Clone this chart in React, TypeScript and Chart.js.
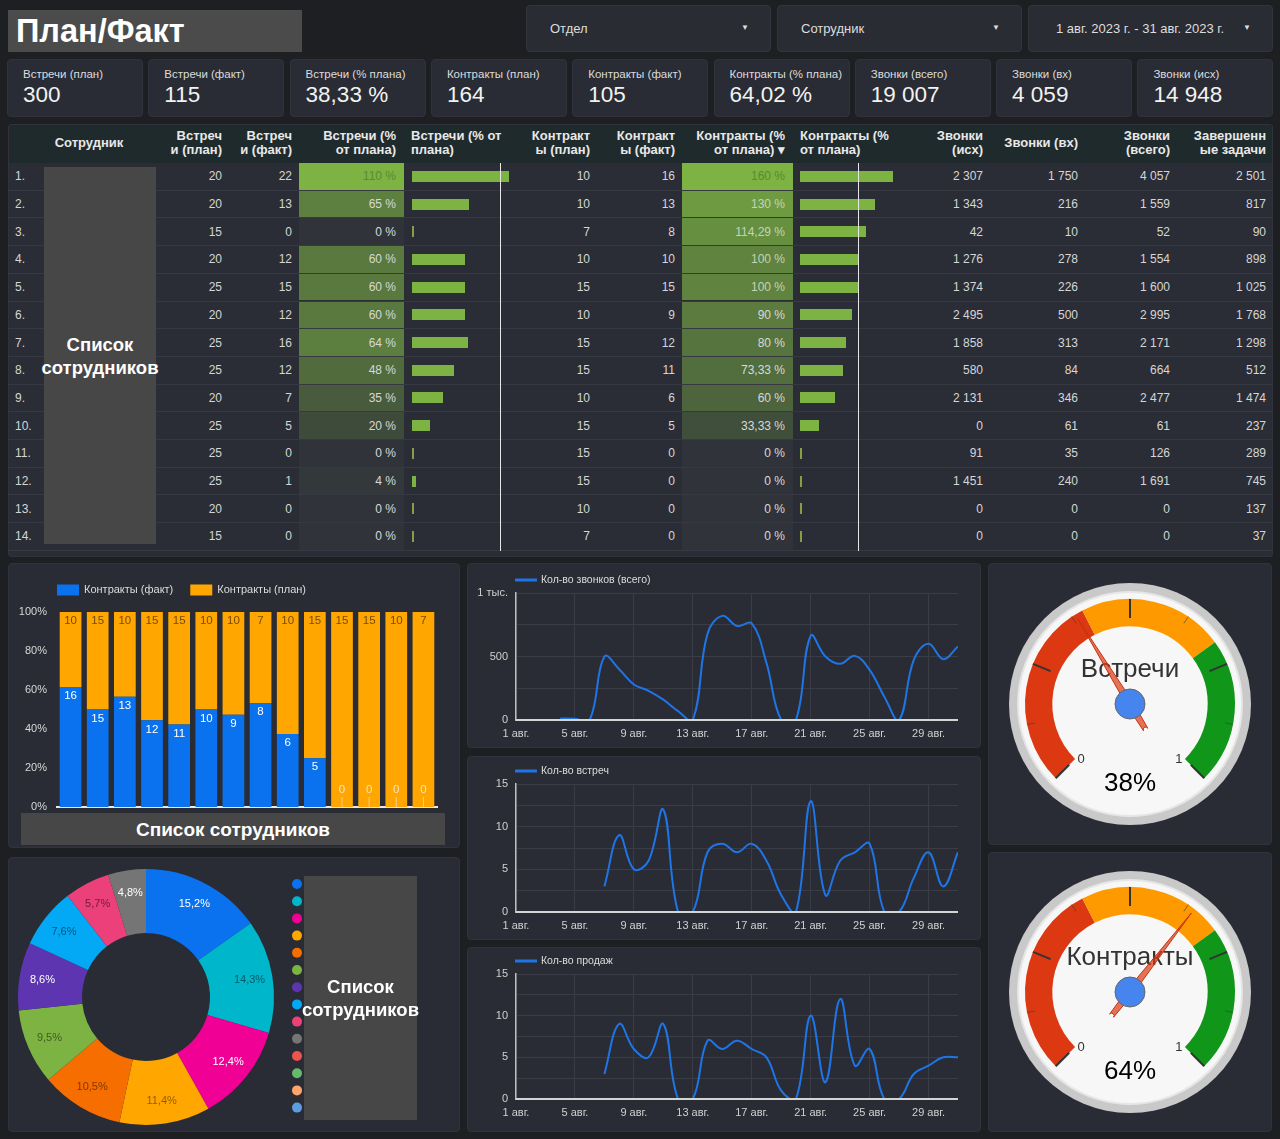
import React, { useEffect, useRef } from "react";
import { Chart, registerables } from "chart.js";

Chart.register(...registerables);

const FONT = "'Liberation Sans', Arial, Helvetica, sans-serif";
Chart.defaults.font.family = FONT;
Chart.defaults.color = "#d4d4d4";

// ---------- colours ----------
const PAGE_BG = "#1d1f23";
const CARD_BG = "#292c34";
const CARD_BORDER = "#30333b";
const GRID = "#3a3d45";
const LINE_BLUE = "#1f74e6";
const NAME_BOX = "#474747";

// ---------- header / filters ----------
const PAGE_TITLE = "План/Факт";
const FILTER_LABELS = ["Отдел", "Сотрудник", "1 авг. 2023 г. - 31 авг. 2023 г."];

// ---------- KPI scorecards ----------
const KPI_LABELS = [
  "Встречи (план)", "Встречи (факт)", "Встречи (% плана)",
  "Контракты (план)", "Контракты (факт)", "Контракты (% плана)",
  "Звонки (всего)", "Звонки (вх)", "Звонки (исх)",
];
const KPI_VALUES = ["300", "115", "38,33 %", "164", "105", "64,02 %", "19 007", "4 059", "14 948"];

// ---------- table ----------
const MEET_PLAN = [20, 20, 15, 20, 25, 20, 25, 25, 20, 25, 25, 25, 20, 15];
const MEET_FACT = [22, 13, 0, 12, 15, 12, 16, 12, 7, 5, 0, 1, 0, 0];
const MEET_PCT = [110, 65, 0, 60, 60, 60, 64, 48, 35, 20, 0, 4, 0, 0];
const CONTR_PLAN = [10, 10, 7, 10, 15, 10, 15, 15, 10, 15, 15, 15, 10, 7];
const CONTR_FACT = [16, 13, 8, 10, 15, 9, 12, 11, 6, 5, 0, 0, 0, 0];
const CONTR_PCT = [160, 130, 114.29, 100, 100, 90, 80, 73.33, 60, 33.33, 0, 0, 0, 0];
const CALLS_OUT = [2307, 1343, 42, 1276, 1374, 2495, 1858, 580, 2131, 0, 91, 1451, 0, 0];
const CALLS_IN = [1750, 216, 10, 278, 226, 500, 313, 84, 346, 61, 35, 240, 0, 0];
const CALLS_ALL = [4057, 1559, 52, 1554, 1600, 2995, 2171, 664, 2477, 61, 126, 1691, 0, 0];
const TASKS_DONE = [2501, 817, 90, 898, 1025, 1768, 1298, 512, 1474, 237, 289, 745, 137, 37];

const HEADERS: { t: string; x: number; align: "left" | "right" | "center" }[] = [
  { t: "Сотрудник", x: 89, align: "center" },
  { t: "Встреч\nи (план)", x: 222, align: "right" },
  { t: "Встреч\nи (факт)", x: 292, align: "right" },
  { t: "Встречи (%\nот плана)", x: 396, align: "right" },
  { t: "Встречи (% от\nплана)", x: 411, align: "left" },
  { t: "Контракт\nы (план)", x: 590, align: "right" },
  { t: "Контракт\nы (факт)", x: 675, align: "right" },
  { t: "Контракты (%\nот плана) ▾", x: 785, align: "right" },
  { t: "Контракты (%\nот плана)", x: 800, align: "left" },
  { t: "Звонки\n(исх)", x: 983, align: "right" },
  { t: "Звонки (вх)", x: 1078, align: "right" },
  { t: "Звонки\n(всего)", x: 1170, align: "right" },
  { t: "Завершенн\nые задачи", x: 1266, align: "right" },
];
const NAME_PLACEHOLDER = "Список\nсотрудников";

// ---------- stacked 100% bar ----------
const BAR_EMPLOYEES = ["С1", "С2", "С3", "С4", "С5", "С6", "С7", "С8", "С9", "С10", "С11", "С12", "С13", "С14"];
const BAR_FACT = [16, 15, 13, 12, 11, 10, 9, 8, 6, 5, 0, 0, 0, 0];
const BAR_PLAN = [10, 15, 10, 15, 15, 10, 10, 7, 10, 15, 15, 15, 10, 7];
const BAR_SERIES = ["Контракты (факт)", "Контракты (план)"];
const BAR_COLORS = ["#0a72ef", "#ffa600"];
const BAR_Y_TICKS = ["0%", "20%", "40%", "60%", "80%", "100%"];

// ---------- donut ----------
const DONUT_VALUES = [16, 15, 13, 12, 11, 10, 9, 8, 6, 5, 0, 0, 0, 0];
const DONUT_COLORS = [
  "#0a72ef", "#00b6cb", "#f10096", "#ffa600", "#f66d00", "#7cb342", "#5e35b1",
  "#03a9f4", "#ec407a", "#757575", "#ef5350", "#66bb6a", "#ffa36b", "#5c9ce0",
];
const DONUT_TEXT = [
  "#ffffff", "rgba(0,0,0,0.5)", "#ffffff", "rgba(0,0,0,0.45)", "rgba(0,0,0,0.5)",
  "rgba(0,0,0,0.5)", "#ffffff", "rgba(0,0,0,0.5)", "rgba(0,0,0,0.55)", "#ffffff",
  "#fff", "#fff", "#fff", "#fff",
];

// ---------- daily lines ----------
const DAY_LABELS = [
  "1 авг.", "2 авг.", "3 авг.", "4 авг.", "5 авг.", "6 авг.", "7 авг.", "8 авг.", "9 авг.", "10 авг.",
  "11 авг.", "12 авг.", "13 авг.", "14 авг.", "15 авг.", "16 авг.", "17 авг.", "18 авг.", "19 авг.", "20 авг.",
  "21 авг.", "22 авг.", "23 авг.", "24 авг.", "25 авг.", "26 авг.", "27 авг.", "28 авг.", "29 авг.", "30 авг.", "31 авг.",
];
const CALLS_DAILY = [null, null, null, 12, 10, 0, 500, 400, 280, 230, 160, 70, 0, 680, 820, 740, 760, 450, 0, 0, 663, 500, 442, 505, 395, 184, 0, 474, 600, 479, 579];
const MEETINGS_DAILY = [null, null, null, null, null, null, 3, 9, 5, 6, 12, 0, 0, 7, 8, 7, 8, 6, 2, 0, 13, 2, 6, 7, 8, 0, 0, 4, 7, 3, 7];
const SALES_DAILY = [null, null, null, null, null, null, 3, 9, 6, 5, 9, 0, 0, 7, 6, 7, 6, 5, 1, 0, 10, 2, 12, 4, 6, 0, 0, 3, 4, 5, 5];
const LINE_LABELS = ["Кол-во звонков (всего)", "Кол-во встреч", "Кол-во продаж"];

// ---------- gauges ----------
const GAUGE_BAND_LABELS = ["low", "mid", "high", "gap"];
const GAUGE_BANDS = [0.4, 0.3, 0.3];
const GAUGE_GAP = 0.3333;
const GAUGE_COLORS = ["#dc3912", "#ff9900", "#109618"];
const GAUGE_TITLES = ["Встречи", "Контракты"];
const GAUGE_VALUES = [0.3833, 0.6402];

// ---------- helpers ----------
const fmtInt = (n: number) => String(n).replace(/\B(?=(\d{3})+(?!\d))/g, " ");
const fmtPct = (p: number) => String(Math.round(p * 100) / 100).replace(".", ",") + " %";

function heat(r: number) {
  const a = [48, 52, 58];
  const b = [124, 179, 66];
  const c = a.map((v, i) => Math.round(v + (b[i] - v) * r));
  return `rgb(${c[0]},${c[1]},${c[2]})`;
}

function ChartCanvas({ left, top, width, height, make }: any) {
  const ref = useRef<HTMLCanvasElement | null>(null);
  useEffect(() => {
    if (!ref.current) return;
    const chart = new Chart(ref.current, make());
    return () => chart.destroy();
  }, []);
  return (
    <canvas
      ref={ref}
      width={width}
      height={height}
      style={{ position: "absolute", left, top, width, height }}
    />
  );
}

const box = (left: number, top: number, width: number, height: number, extra: any = {}) => ({
  position: "absolute" as const,
  left,
  top,
  width,
  height,
  boxSizing: "border-box" as const,
  ...extra,
});

function Txt({ x, cy, align = "right", size = 12, color = "#d6d6d6", children, style = {} }: any) {
  const pos =
    align === "right"
      ? { right: 1280 - x }
      : align === "center"
      ? { left: x - 100, width: 200, textAlign: "center" as const }
      : { left: x };
  return (
    <div
      style={{
        position: "absolute",
        top: cy - 8,
        height: 16,
        lineHeight: "16px",
        whiteSpace: "nowrap",
        fontSize: size,
        color,
        ...pos,
        ...style,
      }}
    >
      {children}
    </div>
  );
}

// ---------- chart configs ----------
const lineDecor = {
  id: "lineDecor",
  afterDatasetsDraw(chart: any) {
    const { ctx, chartArea: a } = chart;
    const ds = chart.data.datasets[0];
    ctx.save();
    ctx.strokeStyle = "#d4d4d4";
    ctx.lineWidth = 2;
    ctx.beginPath();
    ctx.moveTo(a.left, a.bottom);
    ctx.lineTo(a.right, a.bottom);
    ctx.stroke();
    const y = a.top - 13;
    ctx.strokeStyle = ds.borderColor;
    ctx.lineWidth = 3;
    ctx.beginPath();
    ctx.moveTo(a.left - 1, y);
    ctx.lineTo(a.left + 21, y);
    ctx.stroke();
    ctx.fillStyle = "#dcdcdc";
    ctx.font = `10.5px ${FONT}`;
    ctx.textBaseline = "middle";
    ctx.fillText(ds.label, a.left + 25, y);
    ctx.restore();
  },
};

function lineConfig(label: string, data: (number | null)[], max: number, step: number, fmt: (v: number) => string) {
  return {
    type: "line",
    data: {
      labels: DAY_LABELS,
      datasets: [
        {
          label,
          data,
          borderColor: LINE_BLUE,
          backgroundColor: LINE_BLUE,
          borderWidth: 2,
          pointRadius: 0,
          tension: 0.4,
          capBezierPoints: false,
          clip: 0,
          spanGaps: false,
        },
      ],
    },
    options: {
      responsive: false,
      animation: false,
      events: [],
      layout: { padding: { top: 27, right: 8, left: 0, bottom: 0 } },
      elements: { line: { capBezierPoints: false } },
      plugins: { legend: { display: false }, tooltip: { enabled: false } },
      scales: {
        x: {
          grid: { color: (c: any) => (c.index % 4 === 0 ? GRID : "rgba(0,0,0,0)"), drawTicks: false },
          border: { display: false },
          ticks: {
            autoSkip: false,
            maxRotation: 0,
            padding: 7,
            font: { size: 11 },
            color: "#d0d0d0",
            callback: (_v: any, i: number) => (i % 4 === 0 ? DAY_LABELS[i] : ""),
          },
          afterFit: (s: any) => {
            s.height = 22;
          },
        },
        y: {
          min: 0,
          max,
          grid: { color: GRID, drawTicks: false },
          border: { color: "#bdbdbd", width: 1.5 },
          ticks: { stepSize: step, padding: 8, font: { size: 11 }, color: "#d0d0d0", callback: (v: any) => fmt(Number(v)) },
          afterFit: (s: any) => {
            s.width = 46;
          },
        },
      },
    },
    plugins: [lineDecor],
  };
}

const barDecor = {
  id: "barDecor",
  afterDatasetsDraw(chart: any) {
    const { ctx, chartArea: a } = chart;
    ctx.save();
    ctx.font = `11.5px ${FONT}`;
    ctx.textAlign = "center";
    ctx.textBaseline = "middle";
    chart.getDatasetMeta(1).data.forEach((el: any, i: number) => {
      ctx.fillStyle = "rgba(70,45,0,0.75)";
      ctx.fillText(String(BAR_PLAN[i]), el.x, el.y + 9);
    });
    chart.getDatasetMeta(0).data.forEach((el: any, i: number) => {
      const v = BAR_FACT[i];
      if (v > 0) {
        ctx.fillStyle = "#ffffff";
        ctx.fillText(String(v), el.x, el.y + 9);
      } else {
        ctx.fillStyle = "#fbe3bd";
        ctx.fillText("0", el.x, a.bottom - 17);
        ctx.strokeStyle = "#f4cf95";
        ctx.lineWidth = 1;
        ctx.beginPath();
        ctx.moveTo(el.x, a.bottom - 10);
        ctx.lineTo(el.x, a.bottom);
        ctx.stroke();
      }
    });
    let x = a.left;
    const y = a.top - 22;
    ctx.textAlign = "left";
    ctx.font = `11px ${FONT}`;
    chart.data.datasets.forEach((ds: any) => {
      ctx.fillStyle = ds.backgroundColor;
      ctx.fillRect(x, y - 5.5, 22, 11);
      ctx.fillStyle = "#dcdcdc";
      ctx.fillText(ds.label, x + 27, y);
      x += 27 + ctx.measureText(ds.label).width + 17;
    });
    ctx.restore();
  },
};

function barConfig() {
  const factPct = BAR_FACT.map((f, i) => (f / (f + BAR_PLAN[i])) * 100);
  const planPct = BAR_PLAN.map((p, i) => (p / (BAR_FACT[i] + p)) * 100);
  return {
    type: "bar",
    data: {
      labels: BAR_EMPLOYEES,
      datasets: [
        { label: BAR_SERIES[0], data: factPct, backgroundColor: BAR_COLORS[0], barPercentage: 0.8, categoryPercentage: 1 },
        { label: BAR_SERIES[1], data: planPct, backgroundColor: BAR_COLORS[1], barPercentage: 0.8, categoryPercentage: 1 },
      ],
    },
    options: {
      responsive: false,
      animation: false,
      events: [],
      layout: { padding: { top: 42, right: 5, bottom: 17, left: 0 } },
      plugins: { legend: { display: false }, tooltip: { enabled: false } },
      scales: {
        x: {
          stacked: true,
          grid: { display: false, drawTicks: false },
          border: { color: "#e8e8e8", width: 2 },
          ticks: { display: false },
          afterFit: (s: any) => {
            s.height = 2;
          },
        },
        y: {
          stacked: true,
          min: 0,
          max: 100,
          grid: { display: false, drawTicks: false },
          border: { display: false },
          ticks: {
            stepSize: 20,
            padding: 10,
            font: { size: 11 },
            color: "#d8d8d8",
            callback: (v: any) => BAR_Y_TICKS[Math.round(Number(v) / 20)],
          },
          afterFit: (s: any) => {
            s.width = 40;
          },
        },
      },
    },
    plugins: [barDecor],
  };
}

const donutDecor = {
  id: "donutDecor",
  afterDatasetsDraw(chart: any) {
    const { ctx } = chart;
    const meta = chart.getDatasetMeta(0);
    const total = DONUT_VALUES.reduce((s, v) => s + v, 0);
    ctx.save();
    ctx.font = `11px ${FONT}`;
    ctx.textAlign = "center";
    ctx.textBaseline = "middle";
    meta.data.forEach((arc: any, i: number) => {
      const v = DONUT_VALUES[i];
      if (!v) return;
      const mid = (arc.startAngle + arc.endAngle) / 2;
      const r = arc.innerRadius + (arc.outerRadius - arc.innerRadius) * 0.64;
      ctx.fillStyle = DONUT_TEXT[i];
      const t = ((v / total) * 100).toFixed(1).replace(".", ",") + "%";
      ctx.fillText(t, arc.x + r * Math.cos(mid), arc.y + r * Math.sin(mid));
    });
    DONUT_COLORS.forEach((c, i) => {
      ctx.beginPath();
      ctx.arc(289, 27 + i * 17.2, 5, 0, Math.PI * 2);
      ctx.fillStyle = c;
      ctx.fill();
    });
    ctx.restore();
  },
};

function donutConfig() {
  return {
    type: "doughnut",
    data: {
      labels: BAR_EMPLOYEES,
      datasets: [{ data: DONUT_VALUES, backgroundColor: DONUT_COLORS, borderWidth: 0 }],
    },
    options: {
      responsive: false,
      animation: false,
      events: [],
      cutout: "50%",
      layout: { padding: { left: 10, top: 12, right: 186, bottom: 7 } },
      plugins: { legend: { display: false }, tooltip: { enabled: false } },
    },
    plugins: [donutDecor],
  };
}

function gaugePlugin(title: string, value: number) {
  const ang = (f: number) => ((-135 - 90 + 270 * f) * Math.PI) / 180;
  return {
    id: "gaugeFace",
    beforeDatasetsDraw(chart: any) {
      const { ctx } = chart;
      const arc = chart.getDatasetMeta(0).data[0];
      const cx = arc.x,
        cy = arc.y;
      ctx.save();
      ctx.beginPath();
      ctx.arc(cx, cy, 121, 0, Math.PI * 2);
      ctx.fillStyle = "#c9c9c9";
      ctx.fill();
      ctx.beginPath();
      ctx.arc(cx, cy, 112, 0, Math.PI * 2);
      ctx.fillStyle = "#f7f7f7";
      ctx.fill();
      ctx.lineWidth = 2;
      ctx.strokeStyle = "#e6e6e6";
      ctx.stroke();
      ctx.restore();
    },
    afterDatasetsDraw(chart: any) {
      const { ctx } = chart;
      const arc = chart.getDatasetMeta(0).data[0];
      const cx = arc.x,
        cy = arc.y;
      const R = arc.outerRadius;
      ctx.save();
      [0, 0.25, 0.5, 0.75, 1].forEach((f) => {
        const a = ang(f);
        ctx.strokeStyle = "#333";
        ctx.lineWidth = 2;
        ctx.beginPath();
        ctx.moveTo(cx + R * Math.cos(a), cy + R * Math.sin(a));
        ctx.lineTo(cx + (R - 19) * Math.cos(a), cy + (R - 19) * Math.sin(a));
        ctx.stroke();
      });
      [0.125, 0.375, 0.625, 0.875].forEach((f) => {
        const a = ang(f);
        ctx.strokeStyle = "rgba(60,60,60,0.6)";
        ctx.lineWidth = 1;
        ctx.beginPath();
        ctx.moveTo(cx + R * Math.cos(a), cy + R * Math.sin(a));
        ctx.lineTo(cx + (R - 8) * Math.cos(a), cy + (R - 8) * Math.sin(a));
        ctx.stroke();
      });
      ctx.textAlign = "center";
      ctx.textBaseline = "middle";
      ctx.fillStyle = "#333";
      ctx.font = `13px ${FONT}`;
      [0, 1].forEach((f) => {
        const a = ang(f);
        ctx.fillText(String(f), cx + 72 * Math.cos(a) + (f ? -2 : 2), cy + 72 * Math.sin(a) + 5);
      });
      ctx.font = `26px ${FONT}`;
      ctx.fillStyle = "#333";
      ctx.fillText(title, cx, cy - 34);
      ctx.fillStyle = "#000";
      ctx.fillText(Math.round(value * 100) + "%", cx, cy + 80);
      const a = ang(value);
      const ux = Math.cos(a),
        uy = Math.sin(a);
      const px = -uy,
        py = ux;
      const tip = 100,
        tail = 30;
      ctx.beginPath();
      ctx.moveTo(cx + ux * tip, cy + uy * tip);
      ctx.lineTo(cx + px * 3.5, cy + py * 3.5);
      ctx.lineTo(cx - ux * tail + px * 2.5, cy - uy * tail + py * 2.5);
      ctx.arc(cx - ux * tail, cy - uy * tail, 2.5, a - Math.PI / 2 + Math.PI, a + Math.PI / 2 + Math.PI, true);
      ctx.lineTo(cx - px * 3.5, cy - py * 3.5);
      ctx.closePath();
      ctx.fillStyle = "rgba(220,57,18,0.7)";
      ctx.fill();
      ctx.strokeStyle = "#c63310";
      ctx.lineWidth = 1;
      ctx.stroke();
      ctx.beginPath();
      ctx.arc(cx, cy, 15, 0, Math.PI * 2);
      ctx.fillStyle = "#4684ee";
      ctx.fill();
      ctx.strokeStyle = "#666";
      ctx.lineWidth = 1;
      ctx.stroke();
      ctx.restore();
    },
  };
}

function gaugeConfig(title: string, value: number) {
  return {
    type: "doughnut",
    data: {
      labels: GAUGE_BAND_LABELS,
      datasets: [
        {
          data: [...GAUGE_BANDS, GAUGE_GAP],
          backgroundColor: [...GAUGE_COLORS, "rgba(0,0,0,0)"],
          borderWidth: 0,
        },
      ],
    },
    options: {
      responsive: false,
      animation: false,
      events: [],
      rotation: -135,
      circumference: 360,
      radius: 105,
      cutout: "74%",
      plugins: { legend: { display: false }, tooltip: { enabled: false } },
    },
    plugins: [gaugePlugin(title, value)],
  };
}

// ---------- layout pieces ----------
function Card({ l, t, w, h }: any) {
  return <div style={box(l, t, w, h, { background: CARD_BG, border: `1px solid ${CARD_BORDER}`, borderRadius: 4 })} />;
}

function NameBox({ l, t, w, h, lines = false }: any) {
  return (
    <div
      style={box(l, t, w, h, {
        background: NAME_BOX,
        display: "flex",
        alignItems: "center",
        justifyContent: "center",
        color: "#fff",
        fontWeight: "bold",
        fontSize: lines ? 18.5 : 19,
        lineHeight: "23px",
        textAlign: "center",
        whiteSpace: lines ? "pre" : "nowrap",
      })}
    >
      {lines ? NAME_PLACEHOLDER : NAME_PLACEHOLDER.replace("\n", " ")}
    </div>
  );
}

function Table() {
  const ROW0 = 162.5;
  const RH = 27.7;
  const maxM = Math.max(...MEET_PCT);
  const maxC = Math.max(...CONTR_PCT);
  const els: any[] = [];
  for (let i = 0; i < MEET_PLAN.length; i++) {
    const top = ROW0 + i * RH;
    const cy = top + RH / 2;
    const rm = MEET_PCT[i] / maxM;
    const rc = CONTR_PCT[i] / maxC;
    const tcol = (r: number) => (r >= 0.95 ? "#588c30" : r > 0.6 ? "#c4d4b2" : "#d8d8d8");
    els.push(<div key={"s" + i} style={box(8, top + RH - 0.5, 1265, 1, { background: "#363941" })} />);
    els.push(<div key={"hm" + i} style={box(299, top + 0.5, 105, RH - 1, { background: heat(rm) })} />);
    els.push(<div key={"hc" + i} style={box(682, top + 0.5, 111, RH - 1, { background: heat(rc) })} />);
    els.push(
      <div
        key={"bm" + i}
        style={box(412, cy - 5.5, Math.max(MEET_PCT[i] * 0.88, 2), 11, {
          background: MEET_PCT[i] > 0 ? "#7cb342" : "#8c9c45",
        })}
      />
    );
    els.push(
      <div
        key={"bc" + i}
        style={box(800, cy - 5.5, Math.max(CONTR_PCT[i] * 0.58, 2), 11, {
          background: CONTR_PCT[i] > 0 ? "#7cb342" : "#8c9c45",
        })}
      />
    );
    els.push(<Txt key={"i" + i} x={15} cy={cy} align="left">{i + 1}.</Txt>);
    els.push(<Txt key={"a" + i} x={222} cy={cy}>{fmtInt(MEET_PLAN[i])}</Txt>);
    els.push(<Txt key={"b" + i} x={292} cy={cy}>{fmtInt(MEET_FACT[i])}</Txt>);
    els.push(<Txt key={"c" + i} x={396} cy={cy} color={tcol(rm)}>{fmtPct(MEET_PCT[i])}</Txt>);
    els.push(<Txt key={"d" + i} x={590} cy={cy}>{fmtInt(CONTR_PLAN[i])}</Txt>);
    els.push(<Txt key={"e" + i} x={675} cy={cy}>{fmtInt(CONTR_FACT[i])}</Txt>);
    els.push(<Txt key={"f" + i} x={785} cy={cy} color={tcol(rc)}>{fmtPct(CONTR_PCT[i])}</Txt>);
    els.push(<Txt key={"g" + i} x={983} cy={cy}>{fmtInt(CALLS_OUT[i])}</Txt>);
    els.push(<Txt key={"h" + i} x={1078} cy={cy}>{fmtInt(CALLS_IN[i])}</Txt>);
    els.push(<Txt key={"j" + i} x={1170} cy={cy}>{fmtInt(CALLS_ALL[i])}</Txt>);
    els.push(<Txt key={"k" + i} x={1266} cy={cy}>{fmtInt(TASKS_DONE[i])}</Txt>);
  }
  return (
    <>
      <div style={box(8, 124, 1265, 433, { background: "#2a2d35", border: "1px solid #30333b", borderRadius: 3 })} />
      <div style={box(9, 125, 1263, 37.5, { background: "#1f2a2c" })} />
      {HEADERS.map((h, i) => {
        const two = h.t.includes("\n");
        const pos =
          h.align === "right"
            ? { right: 1280 - h.x, textAlign: "right" as const }
            : h.align === "center"
            ? { left: h.x - 60, width: 120, textAlign: "center" as const }
            : { left: h.x, textAlign: "left" as const };
        return (
          <div
            key={"hd" + i}
            style={{
              position: "absolute",
              top: two ? 129 : 136,
              lineHeight: "14px",
              fontSize: 13,
              fontWeight: "bold",
              color: "#e8e8e8",
              whiteSpace: "pre",
              ...pos,
            }}
          >
            {h.t}
          </div>
        );
      })}
      {els}
      <div style={box(499.5, 163, 1.5, 388, { background: "#e6e6e6" })} />
      <div style={box(857.5, 163, 1.5, 388, { background: "#e6e6e6" })} />
      <NameBox l={44} t={167} w={112} h={377} lines />
    </>
  );
}

export default function App() {
  return (
    <div
      style={{
        position: "absolute",
        left: 0,
        top: 0,
        width: 1280,
        height: 1139,
        overflow: "hidden",
        background: PAGE_BG,
        fontFamily: FONT,
        color: "#ddd",
      }}
    >
      <div
        style={box(8, 10, 294, 42, {
          background: "#4b4b4b",
          color: "#fff",
          fontWeight: "bold",
          fontSize: 32.5,
          lineHeight: "42px",
          paddingLeft: 8,
        })}
      >
        {PAGE_TITLE}
      </div>
      {FILTER_LABELS.map((f, i) => {
        const l = 526 + i * 251;
        return (
          <div key={"f" + i} style={box(l, 5, 245, 47, { background: "#2a2c33", border: "1px solid #33353c", borderRadius: 4 })}>
            <div
              style={{
                position: "absolute",
                left: i === 2 ? 0 : 23,
                width: i === 2 ? 222 : undefined,
                textAlign: i === 2 ? "center" : "left",
                top: 15,
                fontSize: 13,
                color: "#dedede",
                whiteSpace: "nowrap",
              }}
            >
              {f}
            </div>
            <div style={{ position: "absolute", right: 21, top: 17, fontSize: 8, color: "#dedede" }}>▼</div>
          </div>
        );
      })}
      {KPI_LABELS.map((k, i) => {
        const l = 7 + i * 141.3;
        return (
          <div key={"k" + i} style={box(l, 59, 136, 58, { background: CARD_BG, border: `1px solid ${CARD_BORDER}`, borderRadius: 4 })}>
            <div style={{ position: "absolute", left: 15, top: 8, fontSize: 11.5, color: "#dcdcdc", whiteSpace: "nowrap" }}>{k}</div>
            <div style={{ position: "absolute", left: 15, top: 22, fontSize: 22.5, color: "#f2f2f2", whiteSpace: "nowrap" }}>
              {KPI_VALUES[i]}
            </div>
          </div>
        );
      })}

      <Table />

      <Card l={8} t={563} w={452} h={285} />
      <Card l={8} t={857} w={452} h={275} />
      <Card l={467} t={563} w={514} h={185} />
      <Card l={467} t={756} w={514} h={184} />
      <Card l={467} t={947} w={514} h={185} />
      <Card l={988} t={563} w={284} h={282} />
      <Card l={988} t={852} w={284} h={280} />

      <ChartCanvas left={17} top={570} width={425} height={256} make={barConfig} />
      <NameBox l={21} t={813} w={424} h={32} />

      <ChartCanvas left={8} top={857} width={452} height={275} make={donutConfig} />
      <NameBox l={304} t={876} w={113} h={244} lines />

      <ChartCanvas
        left={470}
        top={566}
        width={496}
        height={176}
        make={() => lineConfig(LINE_LABELS[0], CALLS_DAILY, 1000, 250, (v) => (v === 1000 ? "1 тыс." : v % 500 === 0 ? String(v) : ""))}
      />
      <ChartCanvas
        left={470}
        top={757}
        width={496}
        height={177}
        make={() => lineConfig(LINE_LABELS[1], MEETINGS_DAILY, 15, 2.5, (v) => (v % 5 === 0 ? String(v) : ""))}
      />
      <ChartCanvas
        left={470}
        top={947}
        width={496}
        height={174}
        make={() => lineConfig(LINE_LABELS[2], SALES_DAILY, 15, 2.5, (v) => (v % 5 === 0 ? String(v) : ""))}
      />

      <ChartCanvas left={1005} top={579} width={250} height={250} make={() => gaugeConfig(GAUGE_TITLES[0], GAUGE_VALUES[0])} />
      <ChartCanvas left={1005} top={867} width={250} height={250} make={() => gaugeConfig(GAUGE_TITLES[1], GAUGE_VALUES[1])} />
    </div>
  );
}
